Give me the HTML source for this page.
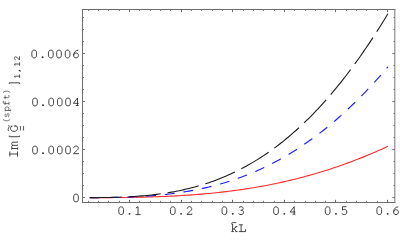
<!DOCTYPE html><html><head><meta charset="utf-8"><style>html,body{margin:0;padding:0;background:#fff;}body{width:400px;height:247px;overflow:hidden;position:relative;font-family:"Liberation Mono",monospace;}</style></head><body><svg width="400" height="247" viewBox="0 0 400 247" style="position:absolute;left:0;top:0">
<rect width="400" height="247" fill="#fff"/>
<g stroke="#6c6c6c" stroke-width="1" fill="none">
<path d="M82.5,203.0 V9.0 M82.0,9.5 H395.33 M82.0,202.5 H395.33"/>
<path d="M394.83,203.0 V9.0" stroke="#787878"/>
<path d="M129.50,202.5 v-2.7 M129.50,9.5 v2.7 M181.50,202.5 v-2.7 M181.50,9.5 v2.7 M232.50,202.5 v-2.7 M232.50,9.5 v2.7 M284.50,202.5 v-2.7 M284.50,9.5 v2.7 M335.50,202.5 v-2.7 M335.50,9.5 v2.7 M387.50,202.5 v-2.7 M387.50,9.5 v2.7 M82.5,197.50 h2.5 M394.83,197.50 h-2.4 M82.5,149.50 h2.5 M394.83,149.50 h-2.4 M82.5,101.50 h2.5 M394.83,101.50 h-2.4 M82.5,53.50 h2.5 M394.83,53.50 h-2.4"/>
<path d="M88.50,202.5 v-1.7 M88.50,9.5 v1.4 M98.50,202.5 v-1.7 M98.50,9.5 v1.4 M108.50,202.5 v-1.7 M108.50,9.5 v1.4 M119.50,202.5 v-1.7 M119.50,9.5 v1.4 M139.50,202.5 v-1.7 M139.50,9.5 v1.4 M150.50,202.5 v-1.7 M150.50,9.5 v1.4 M160.50,202.5 v-1.7 M160.50,9.5 v1.4 M170.50,202.5 v-1.7 M170.50,9.5 v1.4 M191.50,202.5 v-1.7 M191.50,9.5 v1.4 M201.50,202.5 v-1.7 M201.50,9.5 v1.4 M212.50,202.5 v-1.7 M212.50,9.5 v1.4 M222.50,202.5 v-1.7 M222.50,9.5 v1.4 M243.50,202.5 v-1.7 M243.50,9.5 v1.4 M253.50,202.5 v-1.7 M253.50,9.5 v1.4 M263.50,202.5 v-1.7 M263.50,9.5 v1.4 M274.50,202.5 v-1.7 M274.50,9.5 v1.4 M294.50,202.5 v-1.7 M294.50,9.5 v1.4 M305.50,202.5 v-1.7 M305.50,9.5 v1.4 M315.50,202.5 v-1.7 M315.50,9.5 v1.4 M325.50,202.5 v-1.7 M325.50,9.5 v1.4 M346.50,202.5 v-1.7 M346.50,9.5 v1.4 M356.50,202.5 v-1.7 M356.50,9.5 v1.4 M366.50,202.5 v-1.7 M366.50,9.5 v1.4 M377.50,202.5 v-1.7 M377.50,9.5 v1.4 M82.5,185.50 h1.5 M394.83,185.50 h-1.5 M82.5,173.50 h1.5 M394.83,173.50 h-1.5 M82.5,161.50 h1.5 M394.83,161.50 h-1.5 M82.5,137.50 h1.5 M394.83,137.50 h-1.5 M82.5,125.50 h1.5 M394.83,125.50 h-1.5 M82.5,113.50 h1.5 M394.83,113.50 h-1.5 M82.5,89.50 h1.5 M394.83,89.50 h-1.5 M82.5,77.50 h1.5 M394.83,77.50 h-1.5 M82.5,65.50 h1.5 M394.83,65.50 h-1.5 M82.5,41.50 h1.5 M394.83,41.50 h-1.5 M82.5,29.50 h1.5 M394.83,29.50 h-1.5 M82.5,17.50 h1.5 M394.83,17.50 h-1.5" stroke="#777"/>
</g>
<path d="M89.55,197.65 L92.03,197.64 L94.52,197.64 L97.00,197.64 L99.49,197.63 L101.98,197.62 L104.46,197.61 L106.95,197.60 L109.43,197.59 L111.92,197.58 L114.41,197.56 L116.89,197.54 L119.38,197.51 L121.86,197.49 L124.35,197.46 L126.84,197.43 L129.32,197.39 L131.81,197.35 L134.29,197.31 L136.78,197.26 L139.26,197.21 L141.75,197.16 L144.24,197.10 L146.72,197.04 L149.21,196.97 L151.69,196.89 L154.18,196.81 L156.67,196.73 L159.15,196.64 L161.64,196.55 L164.12,196.44 L166.61,196.34 L169.10,196.22 L171.58,196.11 L174.07,195.98 L176.55,195.85 L179.04,195.71 L181.53,195.56 L184.01,195.41 L186.50,195.25 L188.98,195.08 L191.47,194.91 L193.96,194.73 L196.44,194.54 L198.93,194.34 L201.41,194.13 L203.90,193.92 L206.38,193.70 L208.87,193.46 L211.36,193.22 L213.84,192.97 L216.33,192.72 L218.81,192.45 L221.30,192.17 L223.79,191.89 L226.27,191.59 L228.76,191.29 L231.24,190.97 L233.73,190.65 L236.22,190.31 L238.70,189.97 L241.19,189.61 L243.67,189.25 L246.16,188.87 L248.65,188.48 L251.13,188.08 L253.62,187.67 L256.10,187.25 L258.59,186.82 L261.08,186.38 L263.56,185.92 L266.05,185.46 L268.53,184.98 L271.02,184.49 L273.51,183.99 L275.99,183.47 L278.48,182.95 L280.96,182.41 L283.45,181.86 L285.93,181.30 L288.42,180.72 L290.91,180.13 L293.39,179.53 L295.88,178.92 L298.36,178.29 L300.85,177.65 L303.34,176.99 L305.82,176.33 L308.31,175.65 L310.79,174.95 L313.28,174.24 L315.77,173.52 L318.25,172.79 L320.74,172.04 L323.22,171.28 L325.71,170.50 L328.20,169.71 L330.68,168.90 L333.17,168.09 L335.65,167.25 L338.14,166.40 L340.63,165.54 L343.11,164.67 L345.60,163.78 L348.08,162.87 L350.57,161.95 L353.06,161.02 L355.54,160.07 L358.03,159.10 L360.51,158.12 L363.00,157.13 L365.48,156.12 L367.97,155.10 L370.46,154.06 L372.94,153.00 L375.43,151.93 L377.91,150.85 L380.40,149.75 L382.89,148.64 L385.37,147.51 L387.86,146.36" stroke="#ff2a2a" stroke-width="1.1" fill="none"/>
<path d="M89.55,197.64 L92.03,197.64 L94.52,197.63 L97.00,197.62 L99.49,197.60 L101.98,197.58 L104.46,197.56 L106.95,197.53 L109.43,197.50 L111.92,197.46 L114.41,197.42 L116.89,197.36 L119.38,197.31 L121.86,197.24 L124.35,197.17 L126.84,197.09 L129.32,196.99 L131.81,196.90 L134.29,196.79 L136.78,196.67 L139.26,196.54 L141.75,196.40 L144.24,196.25 L146.72,196.08 L149.21,195.91 L151.69,195.72 L154.18,195.52 L156.67,195.30 L159.15,195.08 L161.64,194.83 L164.12,194.58 L166.61,194.31 L169.10,194.02 L171.58,193.71 L174.07,193.39 L176.55,193.06 L179.04,192.70 L181.53,192.33 L184.01,191.94 L186.50,191.54 L188.98,191.11 L191.47,190.67 L193.96,190.20 L196.44,189.72 L198.93,189.21 L201.41,188.69 L203.90,188.14 L206.38,187.57 L208.87,186.98 L211.36,186.37 L213.84,185.74 L216.33,185.08 L218.81,184.40 L221.30,183.69 L223.79,182.97 L226.27,182.21 L228.76,181.44 L231.24,180.63 L233.73,179.81 L236.22,178.95 L238.70,178.07 L241.19,177.17 L243.67,176.23 L246.16,175.27 L248.65,174.29 L251.13,173.27 L253.62,172.23 L256.10,171.16 L258.59,170.06 L261.08,168.93 L263.56,167.77 L266.05,166.58 L268.53,165.36 L271.02,164.11 L273.51,162.84 L275.99,161.53 L278.48,160.18 L280.96,158.81 L283.45,157.41 L285.93,155.97 L288.42,154.51 L290.91,153.01 L293.39,151.47 L295.88,149.91 L298.36,148.31 L300.85,146.68 L303.34,145.01 L305.82,143.31 L308.31,141.57 L310.79,139.81 L313.28,138.00 L315.77,136.17 L318.25,134.29 L320.74,132.38 L323.22,130.44 L325.71,128.46 L328.20,126.45 L330.68,124.40 L333.17,122.31 L335.65,120.19 L338.14,118.03 L340.63,115.83 L343.11,113.60 L345.60,111.33 L348.08,109.02 L350.57,106.67 L353.06,104.29 L355.54,101.87 L358.03,99.41 L360.51,96.92 L363.00,94.39 L365.48,91.81 L367.97,89.20 L370.46,86.56 L372.94,83.87 L375.43,81.15 L377.91,78.39 L380.40,75.58 L382.89,72.74 L385.37,69.87 L387.86,66.95" stroke="#1c1cff" stroke-width="1.15" fill="none" stroke-dasharray="9.9 8.83" stroke-dashoffset="-0.45"/>
<path d="M89.55,197.64 L92.03,197.63 L94.52,197.62 L97.00,197.60 L99.49,197.58 L101.98,197.56 L104.46,197.52 L106.95,197.48 L109.43,197.44 L111.92,197.38 L114.41,197.32 L116.89,197.25 L119.38,197.17 L121.86,197.07 L124.35,196.97 L126.84,196.86 L129.32,196.73 L131.81,196.59 L134.29,196.44 L136.78,196.27 L139.26,196.09 L141.75,195.89 L144.24,195.68 L146.72,195.45 L149.21,195.20 L151.69,194.94 L154.18,194.65 L156.67,194.35 L159.15,194.03 L161.64,193.69 L164.12,193.33 L166.61,192.95 L169.10,192.54 L171.58,192.11 L174.07,191.66 L176.55,191.19 L179.04,190.69 L181.53,190.17 L184.01,189.63 L186.50,189.05 L188.98,188.45 L191.47,187.83 L193.96,187.17 L196.44,186.49 L198.93,185.78 L201.41,185.04 L203.90,184.27 L206.38,183.48 L208.87,182.65 L211.36,181.79 L213.84,180.89 L216.33,179.97 L218.81,179.01 L221.30,178.02 L223.79,177.00 L226.27,175.94 L228.76,174.85 L231.24,173.72 L233.73,172.55 L236.22,171.35 L238.70,170.12 L241.19,168.84 L243.67,167.53 L246.16,166.18 L248.65,164.79 L251.13,163.36 L253.62,161.90 L256.10,160.39 L258.59,158.84 L261.08,157.25 L263.56,155.62 L266.05,153.95 L268.53,152.24 L271.02,150.48 L273.51,148.68 L275.99,146.84 L278.48,144.96 L280.96,143.03 L283.45,141.05 L285.93,139.03 L288.42,136.97 L290.91,134.86 L293.39,132.70 L295.88,130.50 L298.36,128.25 L300.85,125.96 L303.34,123.61 L305.82,121.22 L308.31,118.78 L310.79,116.29 L313.28,113.76 L315.77,111.17 L318.25,108.54 L320.74,105.86 L323.22,103.12 L325.71,100.34 L328.20,97.50 L330.68,94.62 L333.17,91.68 L335.65,88.70 L338.14,85.66 L340.63,82.57 L343.11,79.43 L345.60,76.24 L348.08,72.99 L350.57,69.69 L353.06,66.34 L355.54,62.94 L358.03,59.48 L360.51,55.97 L363.00,52.41 L365.48,48.80 L367.97,45.13 L370.46,41.40 L372.94,37.62 L375.43,33.79 L377.91,29.91 L380.40,25.97 L382.89,21.97 L385.37,17.93 L387.86,13.82" stroke="#1a1a1a" stroke-width="1.08" fill="none" stroke-dasharray="32 6.97" stroke-dashoffset="-0.25"/>
<path transform="translate(76.00,201.90)" d="M0.000,-7.800C1.450,-7.800,2.350,-6.800,2.350,-5.100V-2.700C2.350,-1.000,1.450,0.000,0.000,0.000C-1.450,0.000,-2.350,-1.000,-2.350,-2.700V-5.100C-2.350,-6.800,-1.450,-7.800,0.000,-7.800Z" fill="none" stroke="#2a2a2a" stroke-width="0.880" stroke-linejoin="round" stroke-linecap="butt"/>
<path transform="translate(35.00,153.90)" d="M0.000,-7.800C1.450,-7.800,2.350,-6.800,2.350,-5.100V-2.700C2.350,-1.000,1.450,0.000,0.000,0.000C-1.450,0.000,-2.350,-1.000,-2.350,-2.700V-5.100C-2.350,-6.800,-1.450,-7.800,0.000,-7.800Z" fill="none" stroke="#2a2a2a" stroke-width="0.880" stroke-linejoin="round" stroke-linecap="butt"/>
<circle transform="translate(43.00,153.90)" cx="0" cy="-0.75" r="0.95" fill="#2a2a2a"/>
<path transform="translate(51.20,153.90)" d="M0.000,-7.800C1.450,-7.800,2.350,-6.800,2.350,-5.100V-2.700C2.350,-1.000,1.450,0.000,0.000,0.000C-1.450,0.000,-2.350,-1.000,-2.350,-2.700V-5.100C-2.350,-6.800,-1.450,-7.800,0.000,-7.800Z" fill="none" stroke="#2a2a2a" stroke-width="0.880" stroke-linejoin="round" stroke-linecap="butt"/>
<path transform="translate(59.80,153.90)" d="M0.000,-7.800C1.450,-7.800,2.350,-6.800,2.350,-5.100V-2.700C2.350,-1.000,1.450,0.000,0.000,0.000C-1.450,0.000,-2.350,-1.000,-2.350,-2.700V-5.100C-2.350,-6.800,-1.450,-7.800,0.000,-7.800Z" fill="none" stroke="#2a2a2a" stroke-width="0.880" stroke-linejoin="round" stroke-linecap="butt"/>
<path transform="translate(68.00,153.90)" d="M0.000,-7.800C1.450,-7.800,2.350,-6.800,2.350,-5.100V-2.700C2.350,-1.000,1.450,0.000,0.000,0.000C-1.450,0.000,-2.350,-1.000,-2.350,-2.700V-5.100C-2.350,-6.800,-1.450,-7.800,0.000,-7.800Z" fill="none" stroke="#2a2a2a" stroke-width="0.880" stroke-linejoin="round" stroke-linecap="butt"/>
<path transform="translate(76.00,153.90)" d="M-2.300,-5.800C-2.300,-7.100,-1.200,-7.900,0.000,-7.900C1.300,-7.900,2.300,-7.000,2.300,-5.800C2.300,-4.700,1.500,-3.900,0.300,-2.900L-2.500,-0.200H2.500V-1.000" fill="none" stroke="#2a2a2a" stroke-width="0.880" stroke-linejoin="round" stroke-linecap="butt"/>
<path transform="translate(35.00,105.90)" d="M0.000,-7.800C1.450,-7.800,2.350,-6.800,2.350,-5.100V-2.700C2.350,-1.000,1.450,0.000,0.000,0.000C-1.450,0.000,-2.350,-1.000,-2.350,-2.700V-5.100C-2.350,-6.800,-1.450,-7.800,0.000,-7.800Z" fill="none" stroke="#2a2a2a" stroke-width="0.880" stroke-linejoin="round" stroke-linecap="butt"/>
<circle transform="translate(43.00,105.90)" cx="0" cy="-0.75" r="0.95" fill="#2a2a2a"/>
<path transform="translate(51.20,105.90)" d="M0.000,-7.800C1.450,-7.800,2.350,-6.800,2.350,-5.100V-2.700C2.350,-1.000,1.450,0.000,0.000,0.000C-1.450,0.000,-2.350,-1.000,-2.350,-2.700V-5.100C-2.350,-6.800,-1.450,-7.800,0.000,-7.800Z" fill="none" stroke="#2a2a2a" stroke-width="0.880" stroke-linejoin="round" stroke-linecap="butt"/>
<path transform="translate(59.80,105.90)" d="M0.000,-7.800C1.450,-7.800,2.350,-6.800,2.350,-5.100V-2.700C2.350,-1.000,1.450,0.000,0.000,0.000C-1.450,0.000,-2.350,-1.000,-2.350,-2.700V-5.100C-2.350,-6.800,-1.450,-7.800,0.000,-7.800Z" fill="none" stroke="#2a2a2a" stroke-width="0.880" stroke-linejoin="round" stroke-linecap="butt"/>
<path transform="translate(68.00,105.90)" d="M0.000,-7.800C1.450,-7.800,2.350,-6.800,2.350,-5.100V-2.700C2.350,-1.000,1.450,0.000,0.000,0.000C-1.450,0.000,-2.350,-1.000,-2.350,-2.700V-5.100C-2.350,-6.800,-1.450,-7.800,0.000,-7.800Z" fill="none" stroke="#2a2a2a" stroke-width="0.880" stroke-linejoin="round" stroke-linecap="butt"/>
<path transform="translate(76.00,105.90)" d="M1.500,-0.400V-7.900L-2.600,-2.600H2.700M-0.200,-0.400H2.700" fill="none" stroke="#2a2a2a" stroke-width="0.880" stroke-linejoin="round" stroke-linecap="butt"/>
<path transform="translate(34.20,57.90)" d="M0.000,-7.800C1.450,-7.800,2.350,-6.800,2.350,-5.100V-2.700C2.350,-1.000,1.450,0.000,0.000,0.000C-1.450,0.000,-2.350,-1.000,-2.350,-2.700V-5.100C-2.350,-6.800,-1.450,-7.800,0.000,-7.800Z" fill="none" stroke="#2a2a2a" stroke-width="0.880" stroke-linejoin="round" stroke-linecap="butt"/>
<circle transform="translate(42.60,57.90)" cx="0" cy="-0.75" r="0.95" fill="#2a2a2a"/>
<path transform="translate(50.80,57.90)" d="M0.000,-7.800C1.450,-7.800,2.350,-6.800,2.350,-5.100V-2.700C2.350,-1.000,1.450,0.000,0.000,0.000C-1.450,0.000,-2.350,-1.000,-2.350,-2.700V-5.100C-2.350,-6.800,-1.450,-7.800,0.000,-7.800Z" fill="none" stroke="#2a2a2a" stroke-width="0.880" stroke-linejoin="round" stroke-linecap="butt"/>
<path transform="translate(59.00,57.90)" d="M0.000,-7.800C1.450,-7.800,2.350,-6.800,2.350,-5.100V-2.700C2.350,-1.000,1.450,0.000,0.000,0.000C-1.450,0.000,-2.350,-1.000,-2.350,-2.700V-5.100C-2.350,-6.800,-1.450,-7.800,0.000,-7.800Z" fill="none" stroke="#2a2a2a" stroke-width="0.880" stroke-linejoin="round" stroke-linecap="butt"/>
<path transform="translate(67.60,57.90)" d="M0.000,-7.800C1.450,-7.800,2.350,-6.800,2.350,-5.100V-2.700C2.350,-1.000,1.450,0.000,0.000,0.000C-1.450,0.000,-2.350,-1.000,-2.350,-2.700V-5.100C-2.350,-6.800,-1.450,-7.800,0.000,-7.800Z" fill="none" stroke="#2a2a2a" stroke-width="0.880" stroke-linejoin="round" stroke-linecap="butt"/>
<path transform="translate(76.00,57.90)" d="M2.400,-7.700C0.200,-7.900,-2.350,-5.900,-2.350,-2.800C-2.350,-1.000,-1.400,0.000,0.100,0.000C1.500,0.000,2.450,-1.000,2.450,-2.500C2.450,-3.900,1.500,-4.900,0.200,-4.900C-1.000,-4.900,-2.100,-4.000,-2.350,-2.600" fill="none" stroke="#2a2a2a" stroke-width="0.880" stroke-linejoin="round" stroke-linecap="butt"/>
<path transform="translate(121.17,214.60)" d="M0.000,-7.800C1.450,-7.800,2.350,-6.800,2.350,-5.100V-2.700C2.350,-1.000,1.450,0.000,0.000,0.000C-1.450,0.000,-2.350,-1.000,-2.350,-2.700V-5.100C-2.350,-6.800,-1.450,-7.800,0.000,-7.800Z" fill="none" stroke="#2a2a2a" stroke-width="0.880" stroke-linejoin="round" stroke-linecap="butt"/>
<circle transform="translate(129.50,214.60)" cx="0" cy="-0.75" r="0.95" fill="#2a2a2a"/>
<path transform="translate(137.83,214.60)" d="M-2.000,-6.500L0.200,-7.900V0.000M-2.400,0.000H2.700" fill="none" stroke="#2a2a2a" stroke-width="0.880" stroke-linejoin="round" stroke-linecap="butt"/>
<path transform="translate(172.79,214.60)" d="M0.000,-7.800C1.450,-7.800,2.350,-6.800,2.350,-5.100V-2.700C2.350,-1.000,1.450,0.000,0.000,0.000C-1.450,0.000,-2.350,-1.000,-2.350,-2.700V-5.100C-2.350,-6.800,-1.450,-7.800,0.000,-7.800Z" fill="none" stroke="#2a2a2a" stroke-width="0.880" stroke-linejoin="round" stroke-linecap="butt"/>
<circle transform="translate(181.12,214.60)" cx="0" cy="-0.75" r="0.95" fill="#2a2a2a"/>
<path transform="translate(189.45,214.60)" d="M-2.300,-5.800C-2.300,-7.100,-1.200,-7.900,0.000,-7.900C1.300,-7.900,2.300,-7.000,2.300,-5.800C2.300,-4.700,1.500,-3.900,0.300,-2.900L-2.500,-0.200H2.500V-1.000" fill="none" stroke="#2a2a2a" stroke-width="0.880" stroke-linejoin="round" stroke-linecap="butt"/>
<path transform="translate(224.41,214.60)" d="M0.000,-7.800C1.450,-7.800,2.350,-6.800,2.350,-5.100V-2.700C2.350,-1.000,1.450,0.000,0.000,0.000C-1.450,0.000,-2.350,-1.000,-2.350,-2.700V-5.100C-2.350,-6.800,-1.450,-7.800,0.000,-7.800Z" fill="none" stroke="#2a2a2a" stroke-width="0.880" stroke-linejoin="round" stroke-linecap="butt"/>
<circle transform="translate(232.74,214.60)" cx="0" cy="-0.75" r="0.95" fill="#2a2a2a"/>
<path transform="translate(241.07,214.60)" d="M-2.100,-7.000C-1.500,-7.600,-0.800,-7.900,0.100,-7.900C1.300,-7.900,2.100,-7.200,2.100,-6.100C2.100,-5.000,1.200,-4.300,-0.300,-4.300C1.400,-4.300,2.500,-3.500,2.500,-2.200C2.500,-0.800,1.400,0.000,0.000,0.000C-1.100,0.000,-2.100,-0.500,-2.600,-1.200" fill="none" stroke="#2a2a2a" stroke-width="0.880" stroke-linejoin="round" stroke-linecap="butt"/>
<path transform="translate(276.03,214.60)" d="M0.000,-7.800C1.450,-7.800,2.350,-6.800,2.350,-5.100V-2.700C2.350,-1.000,1.450,0.000,0.000,0.000C-1.450,0.000,-2.350,-1.000,-2.350,-2.700V-5.100C-2.350,-6.800,-1.450,-7.800,0.000,-7.800Z" fill="none" stroke="#2a2a2a" stroke-width="0.880" stroke-linejoin="round" stroke-linecap="butt"/>
<circle transform="translate(284.36,214.60)" cx="0" cy="-0.75" r="0.95" fill="#2a2a2a"/>
<path transform="translate(292.69,214.60)" d="M1.500,-0.400V-7.900L-2.600,-2.600H2.700M-0.200,-0.400H2.700" fill="none" stroke="#2a2a2a" stroke-width="0.880" stroke-linejoin="round" stroke-linecap="butt"/>
<path transform="translate(327.65,214.60)" d="M0.000,-7.800C1.450,-7.800,2.350,-6.800,2.350,-5.100V-2.700C2.350,-1.000,1.450,0.000,0.000,0.000C-1.450,0.000,-2.350,-1.000,-2.350,-2.700V-5.100C-2.350,-6.800,-1.450,-7.800,0.000,-7.800Z" fill="none" stroke="#2a2a2a" stroke-width="0.880" stroke-linejoin="round" stroke-linecap="butt"/>
<circle transform="translate(335.98,214.60)" cx="0" cy="-0.75" r="0.95" fill="#2a2a2a"/>
<path transform="translate(344.31,214.60)" d="M2.100,-7.900H-1.800V-4.400C-1.100,-5.000,-0.400,-5.300,0.400,-5.300C1.700,-5.300,2.500,-4.100,2.500,-2.600C2.500,-1.000,1.500,0.000,0.100,0.000C-1.000,0.000,-2.000,-0.500,-2.600,-1.300" fill="none" stroke="#2a2a2a" stroke-width="0.880" stroke-linejoin="round" stroke-linecap="butt"/>
<path transform="translate(379.27,214.60)" d="M0.000,-7.800C1.450,-7.800,2.350,-6.800,2.350,-5.100V-2.700C2.350,-1.000,1.450,0.000,0.000,0.000C-1.450,0.000,-2.350,-1.000,-2.350,-2.700V-5.100C-2.350,-6.800,-1.450,-7.800,0.000,-7.800Z" fill="none" stroke="#2a2a2a" stroke-width="0.880" stroke-linejoin="round" stroke-linecap="butt"/>
<circle transform="translate(387.60,214.60)" cx="0" cy="-0.75" r="0.95" fill="#2a2a2a"/>
<path transform="translate(395.93,214.60)" d="M2.400,-7.700C0.200,-7.900,-2.350,-5.900,-2.350,-2.800C-2.350,-1.000,-1.400,0.000,0.100,0.000C1.500,0.000,2.450,-1.000,2.450,-2.500C2.450,-3.900,1.500,-4.900,0.200,-4.900C-1.000,-4.900,-2.100,-4.000,-2.350,-2.600" fill="none" stroke="#2a2a2a" stroke-width="0.880" stroke-linejoin="round" stroke-linecap="butt"/>
<path transform="translate(234.20,231.60)" d="M-2.9,-7.6 H-1.6 V0 M-2.9,0 H-0.4 M2.3,-4.9 L-1.6,-1.9 M-0.3,-2.9 L2.3,0 M1.1,-4.9 H3.1 M1.2,0 H3.3" fill="none" stroke="#2a2a2a" stroke-width="0.880" stroke-linejoin="round" stroke-linecap="butt"/>
<path transform="translate(242.30,231.60)" d="M-3.4,-6.8 H0.6 M-1.2,-6.8 V0 M-3.4,0 H3.3 V-2.4" fill="none" stroke="#2a2a2a" stroke-width="0.880" stroke-linejoin="round" stroke-linecap="butt"/>
<path d="M231.4,223.3 q0.7,-0.9 1.6,-0.7 h3.3" stroke="#2a2a2a" stroke-width="0.8" fill="none"/>
<path transform="translate(17.50,154.00) rotate(-90)" d="M-2.5,-7.7 H2.5 M0,-7.7 V0 M-2.5,0 H2.5" fill="none" stroke="#2a2a2a" stroke-width="0.880" stroke-linejoin="round" stroke-linecap="butt"/>
<path transform="translate(17.50,145.60) rotate(-90)" d="M-4.0,-5.9 H-2.9 V0 M-4.0,0 H-2.0 M-2.9,-4.6 C-2.4,-5.6 -1.5,-5.9 -1.0,-5.9 C-0.2,-5.9 0.2,-5.3 0.2,-4.5 V0 H1.0 M0.2,-4.6 C0.8,-5.6 1.5,-5.9 2.2,-5.9 C2.9,-5.9 3.4,-5.3 3.4,-4.5 V0 H4.2" fill="none" stroke="#2a2a2a" stroke-width="0.880" stroke-linejoin="round" stroke-linecap="butt"/>
<path transform="translate(17.50,136.10) rotate(-90)" d="M0.5,-8.2 H-0.6 V2.1 H0.5" fill="none" stroke="#2a2a2a" stroke-width="0.880" stroke-linejoin="round" stroke-linecap="butt"/>
<path transform="translate(17.50,128.50) rotate(-90)" d="M2.3,-5.2 C1.9,-6.4 1.1,-7.0 0.1,-7.0 C-1.7,-7.0 -2.9,-5.6 -2.9,-3.5 C-2.9,-1.4 -1.7,0 0.1,0 C1.1,0 2.0,-0.4 2.6,-1.0 V-2.6 M1.5,-2.6 H3.2 M2.3,-5.2 V-6.8" fill="none" stroke="#2a2a2a" stroke-width="0.880" stroke-linejoin="round" stroke-linecap="butt"/>
<path transform="translate(9.00,120.10) rotate(-90) scale(0.68)" d="M1,-8.8 C-0.6,-7 -1,-5 -1,-3.6 C-1,-2 -0.6,0 1,1.7" fill="none" stroke="#3a3a3a" stroke-width="1.059" stroke-linejoin="round" stroke-linecap="butt"/>
<path transform="translate(9.00,115.25) rotate(-90) scale(0.68)" d="M2.3,-4.6 C1.8,-5.5 1,-5.9 0,-5.9 C-1.3,-5.9 -2.3,-5.3 -2.3,-4.4 C-2.3,-3.5 -1.4,-3.2 0,-3 C1.5,-2.8 2.5,-2.4 2.5,-1.5 C2.5,-0.5 1.4,0 0,0 C-1,0 -1.9,-0.4 -2.5,-1.2" fill="none" stroke="#3a3a3a" stroke-width="1.059" stroke-linejoin="round" stroke-linecap="butt"/>
<path transform="translate(9.00,109.00) rotate(-90) scale(0.68)" d="M-3.3,-5.9 H-2.2 V2.5 M-3.3,2.5 H-0.8 M-2.2,-4.4 C-1.6,-5.4 -0.7,-5.9 0.3,-5.9 C1.9,-5.9 3,-4.7 3,-3 C3,-1.2 1.9,0 0.3,0 C-0.7,0 -1.6,-0.5 -2.2,-1.5" fill="none" stroke="#3a3a3a" stroke-width="1.059" stroke-linejoin="round" stroke-linecap="butt"/>
<path transform="translate(9.00,103.00) rotate(-90) scale(0.68)" d="M2.9,-8.2 C2.3,-8.5 1.6,-8.6 1,-8.6 C-0.3,-8.6 -0.9,-7.9 -0.9,-6.8 V0 M-2.6,0 H1.8 M-2.6,-5.7 H2.4" fill="none" stroke="#3a3a3a" stroke-width="1.059" stroke-linejoin="round" stroke-linecap="butt"/>
<path transform="translate(9.00,97.00) rotate(-90) scale(0.68)" d="M-0.9,-7.8 V-1.6 C-0.9,-0.5 -0.2,0 0.8,0 C1.7,0 2.5,-0.3 3.1,-0.8 M-2.8,-5.7 H2.2" fill="none" stroke="#3a3a3a" stroke-width="1.059" stroke-linejoin="round" stroke-linecap="butt"/>
<path transform="translate(9.00,91.90) rotate(-90) scale(0.68)" d="M-1,-8.8 C0.6,-7 1,-5 1,-3.6 C1,-2 0.6,0 -1,1.7" fill="none" stroke="#3a3a3a" stroke-width="1.059" stroke-linejoin="round" stroke-linecap="butt"/>
<path transform="translate(17.50,83.40) rotate(-90)" d="M-0.5,-8.2 H0.6 V2.1 H-0.5" fill="none" stroke="#2a2a2a" stroke-width="0.880" stroke-linejoin="round" stroke-linecap="butt"/>
<path transform="translate(19.60,76.30) rotate(-90) scale(0.66)" d="M-2.000,-6.500L0.200,-7.900V0.000M-2.400,0.000H2.700" fill="none" stroke="#2a2a2a" stroke-width="1.212" stroke-linejoin="round" stroke-linecap="butt"/>
<path transform="translate(19.60,70.60) rotate(-90) scale(0.66)" d="M0.6,-1.3 L-0.9,1.7" fill="none" stroke="#2a2a2a" stroke-width="1.742" stroke-linejoin="round" stroke-linecap="butt"/>
<path transform="translate(19.60,64.15) rotate(-90) scale(0.66)" d="M-2.000,-6.500L0.200,-7.900V0.000M-2.400,0.000H2.700" fill="none" stroke="#2a2a2a" stroke-width="1.212" stroke-linejoin="round" stroke-linecap="butt"/>
<path transform="translate(19.60,58.30) rotate(-90) scale(0.66)" d="M-2.300,-5.800C-2.300,-7.100,-1.200,-7.900,0.000,-7.900C1.300,-7.900,2.300,-7.000,2.300,-5.800C2.300,-4.700,1.500,-3.900,0.300,-2.900L-2.500,-0.200H2.500V-1.000" fill="none" stroke="#2a2a2a" stroke-width="1.212" stroke-linejoin="round" stroke-linecap="butt"/>
<path d="M8.6,131 q-1.2,-1.5 0,-3 q1.2,-1.5 0,-3" stroke="#2a2a2a" stroke-width="0.8" fill="none"/>
<path d="M20.4,126 V130.5 M23.55,126 V130.5" stroke="#2a2a2a" stroke-width="0.8" fill="none"/>
</svg></body></html>
